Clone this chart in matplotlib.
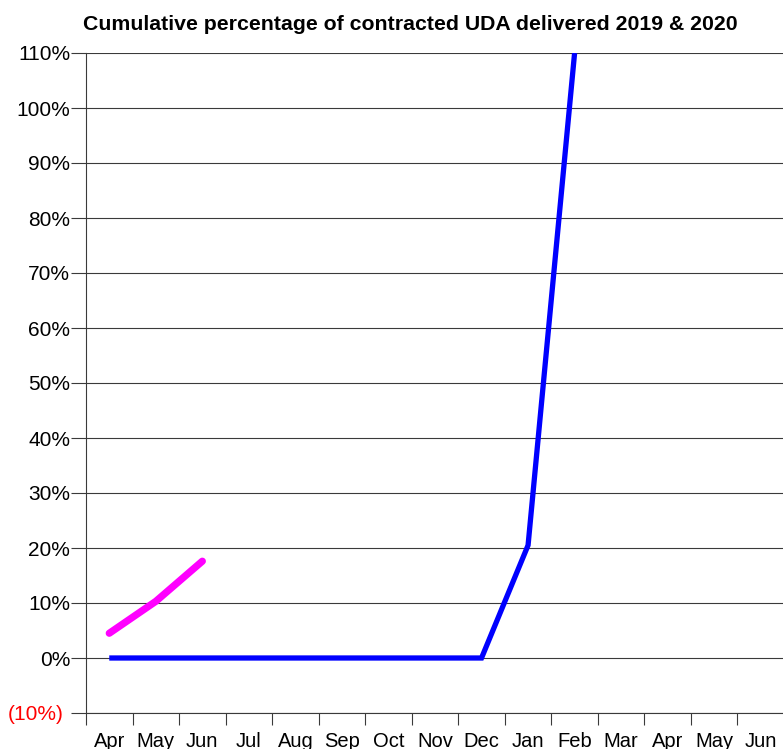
import numpy as np
import matplotlib
matplotlib.use('Agg')
import matplotlib.pyplot as plt
import matplotlib.transforms as mtransforms
from matplotlib.ticker import FuncFormatter, FixedLocator

plt.rcParams['font.family'] = ['Liberation Sans', 'DejaVu Sans']

# --- data ---
months = ['Apr', 'May', 'Jun', 'Jul', 'Aug', 'Sep', 'Oct', 'Nov', 'Dec',
          'Jan', 'Feb', 'Mar', 'Apr', 'May', 'Jun']
delivered_2019 = [0, 0, 0, 0, 0, 0, 0, 0, 0, 20.5, 110]   # blue
delivered_2020 = [4.5, 10.3, 17.6]                          # magenta
y_ticks = list(range(-10, 111, 10))

W, H = 783, 749
fig = plt.figure(figsize=(W / 100, H / 100), dpi=100)
ax = fig.add_axes([86 / W, 36 / H, (784 - 86) / W, (713 - 53) / H])

x = np.arange(len(months)) + 0.5
ax.plot(x[:len(delivered_2019)], delivered_2019, color='#0000FF', lw=3.8,
        solid_capstyle='butt', solid_joinstyle='miter', zorder=3)
ax.plot(x[:len(delivered_2020)], delivered_2020, color='#FF00FF', lw=5.2,
        solid_capstyle='round', solid_joinstyle='round', zorder=3)

ax.set_xlim(0, len(months))
ax.set_ylim(-10, 110)

grid_c = '#3a3a3a'
ax.set_yticks(y_ticks)
ax.yaxis.grid(True, color=grid_c, lw=0.8)
ax.set_axisbelow(True)

def pct(v, pos):
    return f"({abs(int(v))}%)" if v < 0 else f"{int(v)}%"
ax.yaxis.set_major_formatter(FuncFormatter(pct))
ax.tick_params(axis='y', length=10.8, width=0.8, color=grid_c, pad=0.5,
               labelsize=15)

ax.xaxis.set_major_locator(FixedLocator(np.arange(len(months) + 1)))
ax.xaxis.set_minor_locator(FixedLocator(x))
ax.set_xticklabels([], minor=False)
ax.set_xticklabels(months, minor=True)
ax.tick_params(axis='x', which='major', length=8.6, width=0.8, color=grid_c)
ax.tick_params(axis='x', which='minor', length=0, pad=13.5, labelsize=14.5)

# negative label in red, nudged left like the original format
shift = mtransforms.ScaledTranslation(-7 / 100, 0, fig.dpi_scale_trans)
for lbl, v in zip(ax.get_yticklabels(), y_ticks):
    if v < 0:
        lbl.set_color('#FF0000')
        lbl.set_transform(lbl.get_transform() + shift)

for s in ['top', 'right']:
    ax.spines[s].set_visible(False)
ax.spines['left'].set_color(grid_c)
ax.spines['bottom'].set_color(grid_c)
ax.spines['left'].set_linewidth(0.8)
ax.spines['bottom'].set_linewidth(0.8)

fig.text(410 / W, 1 - 25 / H, 'Cumulative percentage of contracted UDA delivered 2019 & 2020',
         ha='center', va='center', fontsize=15.3, fontweight='bold')

fig.savefig('out.png', dpi=100, facecolor='white')
